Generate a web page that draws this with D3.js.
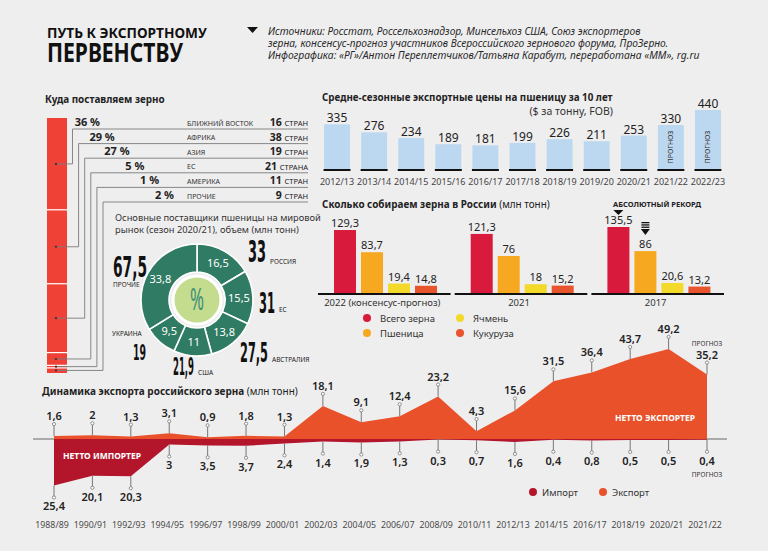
<!DOCTYPE html>
<html><head><meta charset="utf-8">
<script src="https://cdn.jsdelivr.net/npm/d3@7"></script>
<style>
html,body{margin:0;padding:0;background:#efeeef;}
svg{display:block;font-family:"Noto Sans",sans-serif;}
</style></head><body>
<svg id="c" width="768" height="551"></svg>
<script>
// ---- data ----
const regionNames = ["БЛИЖНИЙ ВОСТОК","АФРИКА","АЗИЯ","ЕС","АМЕРИКА","ПРОЧИЕ"];
const regionShares = [36,29,27,5,1,2];
const regionCounts = [16,38,19,21,11,9];
const regionUnits = ["СТРАН","СТРАН","СТРАН","СТРАНА","СТРАН","СТРАН"];

const priceSeasons = ["2012/13","2013/14","2014/15","2015/16","2016/17","2017/18","2018/19","2019/20","2020/21","2021/22","2022/23"];
const priceValues = [335,276,234,189,181,199,226,211,253,330,440];
const priceForecast = [false,false,false,false,false,false,false,false,false,true,true];

const harvestYears = ["2022 (консенсус-прогноз)","2021","2017"];
const harvestSeries = ["Всего зерна","Пшеница","Ячмень","Кукуруза"];
const harvestTotal = [129.3,121.3,135.5];
const harvestWheat = [83.7,76,86];
const harvestBarley = [19.4,18,20.6];
const harvestCorn = [14.8,15.2,13.2];
const harvestColors = ["#d81b3c","#f6a821","#f3d92a","#e8542c"];

const supplierNames = ["РОССИЯ","ЕС","АВСТРАЛИЯ","США","УКРАИНА","ПРОЧИЕ"];
const supplierShares = [16.5,15.5,13.8,11,9.5,33.8];
const supplierVolumes = [33,31,27.5,21.9,19,67.5];

const exportSeasons = ["1988/89","1990/91","1992/93","1994/95","1996/97","1998/99","2000/01","2002/03","2004/05","2006/07","2008/09","2010/11","2012/13","2014/15","2016/17","2018/19","2020/21","2021/22"];
const exportValues = [1.6,2,1.3,3.1,0.9,1.8,1.3,18.1,9.1,12.4,23.2,4.3,15.6,31.5,36.4,43.7,49.2,35.2];
const importValues = [25.4,20.1,20.3,3,3.5,3.7,2.4,1.4,1.9,1.3,0.3,0.7,1.6,0.4,0.8,0.5,0.5,0.4];

const fmt = v => String(v).replace('.', ',');
const svg = d3.select('#c');
const DARK = '#222';

// squeeze/stretch a text horizontally to a given width
function fit(t, w) {
  const n = t.node().getComputedTextLength();
  const x = +t.attr('x'), y = +t.attr('y');
  t.attr('x', 0).attr('y', 0).attr('transform', `translate(${x},${y}) scale(${w / n},1)`);
  return t;
}

// ---- header ----
fit(svg.append('text').attr('x',47).attr('y',38).attr('font-size',15).attr('font-weight',700)
  .attr('fill','#111').text('ПУТЬ К ЭКСПОРТНОМУ'),160);
fit(svg.append('text').attr('x',47).attr('y',62).attr('font-size',27).attr('font-weight',700)
  .attr('fill','#111').text('ПЕРВЕНСТВУ'),136);
svg.append('path').attr('d','M247,27L258,27L252.5,33Z').attr('fill','#111');
const srcLines = [
  ['Источники: Росстат, Россельхознадзор, Минсельхоз США, Союз экспортеров',373],
  ['зерна, консенсус-прогноз участников Всероссийского зернового форума, ПроЗерно.',401],
  ['Инфографика: «РГ»/Антон Переплетчиков/Татьяна Карабут, переработана «ММ», rg.ru',432]];
srcLines.forEach((l,i)=>fit(svg.append('text').attr('x',268).attr('y',35+i*12).attr('font-size',10.5)
  .attr('font-style','italic').attr('fill','#2a2a2a').text(l[0]),l[1]));

// ---- where we ship ----
fit(svg.append('text').attr('x',45).attr('y',103).attr('font-size',10.5).attr('font-weight',700).attr('fill',DARK).text('Куда поставляем зерно'),120);
const shareY = d3.scaleLinear().domain([0,100]).range([118,373]);
let cum = 0;
const segs = regionShares.map(v=>{const s={a:cum,b:cum+v}; cum+=v; return s;});
const gL = svg.append('g');
gL.selectAll('rect.seg').data(segs).join('rect').attr('class','seg')
  .attr('x',47).attr('width',20).attr('y',d=>shareY(d.a)).attr('height',d=>shareY(d.b)-shareY(d.a))
  .attr('fill','#ef4136');
gL.selectAll('line.sep').data(segs.slice(1)).join('line').attr('class','sep')
  .attr('x1',47).attr('x2',67).attr('y1',d=>shareY(d.a)).attr('y2',d=>shareY(d.a)).attr('stroke','#fff').attr('stroke-width',1.2);
const rowY = i => 129 + i*14.6;
const connX = i => 72.5 + i*6.1;
segs.forEach((d,i)=>{
  const my = shareY((d.a+d.b)/2);
  gL.append('path').attr('d',`M56,${my}H${connX(i)}V${rowY(i)}H308`).attr('fill','none').attr('stroke','#7a7a7a').attr('stroke-width',0.9);
  gL.append('circle').attr('cx',56).attr('cy',my).attr('r',1.1).attr('fill','#333');
  gL.append('text').attr('x',100+i*14.8).attr('y',rowY(i)-3).attr('text-anchor','end').attr('font-size',11).attr('font-weight',700).attr('fill',DARK).text(regionShares[i]+' %');
  gL.append('text').attr('x',187).attr('y',rowY(i)-3.5).attr('font-size',7).attr('fill','#333').text(regionNames[i]);
  const t = gL.append('text').attr('x',308).attr('y',rowY(i)-3).attr('text-anchor','end').attr('fill',DARK);
  t.append('tspan').attr('font-size',10.5).attr('font-weight',700).text(regionCounts[i]+' ');
  t.append('tspan').attr('font-size',7.5).text(regionUnits[i]);
});

// ---- donut ----
svg.append('text').attr('x',115).attr('y',221).attr('font-size',9.3).attr('fill','#333').text('Основные поставщики пшеницы на мировой');
svg.append('text').attr('x',115).attr('y',233).attr('font-size',9.3).attr('fill','#333').text('рынок (сезон 2020/21), объем (млн тонн)');
const cx=197, cy=300, R=56, r0=28;
const pie = d3.pie().sort(null).value(d=>d)(supplierShares);
const arc = d3.arc().innerRadius(r0).outerRadius(R);
const gD = svg.append('g').attr('transform',`translate(${cx},${cy})`);
gD.selectAll('path').data(pie).join('path').attr('d',arc).attr('fill','#2f7b63').attr('stroke','#fff').attr('stroke-width',1.6);
const labArc = d3.arc().innerRadius(42).outerRadius(42);
gD.selectAll('text.v').data(pie).join('text').attr('class','v')
  .attr('transform',d=>`translate(${labArc.centroid(d)})`).attr('text-anchor','middle').attr('dy','0.36em')
  .attr('font-size',11).attr('fill','#fff').text(d=>fmt(d.data));
gD.append('circle').attr('r',24).attr('fill','#c4dc8e').attr('stroke','#fff').attr('stroke-width',3);
fit(gD.append('text').attr('x',0).attr('y',10).attr('text-anchor','middle').attr('font-size',30).attr('fill','#3f8f77').text('%'),14);
// big numbers
const bigPos = [
  {x:248,y:262,fs:30,w:18,lx:270,ly:264},
  {x:259,y:313,fs:28,w:16,lx:279,ly:312},
  {x:240,y:362,fs:26,w:28,lx:272,ly:362},
  {x:173,y:375,fs:24,w:21,lx:198,ly:375},
  {x:133,y:360,fs:21,w:13,lx:112,ly:336},
  {x:113,y:277,fs:29,w:34,lx:113,ly:287}];
supplierVolumes.forEach((v,i)=>{
  const p = bigPos[i];
  fit(svg.append('text').attr('x',p.x).attr('y',p.y).attr('font-size',p.fs).attr('font-weight',700).attr('fill','#111')
    .attr('font-family','"DejaVu Sans Condensed","DejaVu Sans",sans-serif').text(fmt(v)),p.w);
  svg.append('text').attr('x',p.lx).attr('y',p.ly).attr('font-size',6.5).attr('fill','#222').text(supplierNames[i]);
});

// ---- prices ----
fit(svg.append('text').attr('x',322).attr('y',100.5).attr('font-size',10.5).attr('font-weight',700).attr('fill',DARK)
  .text('Средне-сезонные экспортные цены на пшеницу за 10 лет'),291);
svg.append('text').attr('x',613).attr('y',115).attr('text-anchor','end').attr('font-size',10.5).attr('fill','#333').text('($ за тонну, FOB)');
const px = d3.scaleBand().domain(priceSeasons).range([318.5,726.5]).paddingInner(0.3).paddingOuter(0.15);
const py = d3.scaleLinear().domain([0,440]).range([170,110]);
const gP = svg.append('g');
gP.selectAll('rect').data(priceValues).join('rect')
  .attr('x',(d,i)=>px(priceSeasons[i])).attr('width',px.bandwidth()).attr('y',d=>py(d)).attr('height',d=>py(0)-py(d)).attr('fill','#bcd8f0');
gP.selectAll('line').data(priceValues).join('line')
  .attr('x1',(d,i)=>px(priceSeasons[i])-0.5).attr('x2',(d,i)=>px(priceSeasons[i])+px.bandwidth()+0.5)
  .attr('y1',py(0)).attr('y2',py(0)).attr('stroke','#111').attr('stroke-width',2);
gP.selectAll('text.v').data(priceValues).join('text').attr('class','v')
  .attr('x',(d,i)=>px(priceSeasons[i])+px.bandwidth()/2).attr('y',d=>py(d)-2).attr('text-anchor','middle')
  .attr('font-size',12).attr('fill',DARK).text(d=>d);
gP.selectAll('text.s').data(priceSeasons).join('text').attr('class','s')
  .attr('x',d=>px(d)+px.bandwidth()/2).attr('y',185).attr('text-anchor','middle').attr('font-size',9).attr('fill','#444').text(d=>d);
priceSeasons.forEach((s,i)=>{ if(priceForecast[i]){
  const x = px(s)+px.bandwidth()/2;
  gP.append('text').attr('transform',`translate(${x+2.5},147) rotate(-90)`).attr('text-anchor','middle')
    .attr('font-size',7).attr('fill','#333').text('ПРОГНОЗ');
}});

// ---- harvest ----
const ht = svg.append('text').attr('x',322).attr('y',208).attr('font-size',10.5).attr('fill',DARK);
ht.append('tspan').attr('font-weight',700).text('Сколько собираем зерна в России');
ht.append('tspan').text(' (млн тонн)');
fit(ht,228);
const hx0 = d3.scaleBand().domain(harvestYears).range([318,724]).paddingInner(0.03);
const hx1 = d3.scaleBand().domain(harvestSeries).range([16,119]).paddingInner(0.185);
const hy = d3.scaleLinear().domain([0,135.5]).range([293,227]);
const hData = harvestYears.map((y,i)=>({year:y, vals:[harvestTotal[i],harvestWheat[i],harvestBarley[i],harvestCorn[i]]}));
const gH = svg.append('g');
hData.forEach(g=>{
  const gx = hx0(g.year);
  gH.selectAll(null).data(g.vals).join('rect')
    .attr('x',(d,j)=>gx+hx1(harvestSeries[j])).attr('width',hx1.bandwidth()).attr('y',d=>hy(d)).attr('height',d=>hy(0)-hy(d))
    .attr('fill',(d,j)=>harvestColors[j]);
  gH.selectAll(null).data(g.vals).join('text')
    .attr('x',(d,j)=>gx+hx1(harvestSeries[j])+hx1.bandwidth()/2).attr('y',d=>hy(d)-3).attr('text-anchor','middle')
    .attr('font-size',11).attr('fill',DARK).text(d=>fmt(d));
  gH.append('line').attr('x1',gx).attr('x2',gx+hx0.bandwidth()).attr('y1',hy(0)+1).attr('y2',hy(0)+1).attr('stroke','#111').attr('stroke-width',2);
  gH.append('text').attr('x',gx+hx0.bandwidth()/2-2).attr('y',306).attr('text-anchor','middle').attr('font-size',9.5).attr('fill','#333').text(g.year);
});
// record marks
const recX = hx0(harvestYears[2]);
gH.append('text').attr('x',613).attr('y',207).attr('font-size',7.5).attr('font-weight',700).attr('fill',DARK).text('АБСОЛЮТНЫЙ РЕКОРД');
const rx1 = recX+hx1(harvestSeries[0])+hx1.bandwidth()/2;
gH.append('path').attr('d',`M${rx1-5},210L${rx1+5},210L${rx1},215Z`).attr('fill','#111');
const rx2 = recX+hx1(harvestSeries[1])+hx1.bandwidth()/2;
[222,224.3,226.6].forEach(yy=>gH.append('rect').attr('x',rx2-4).attr('y',yy).attr('width',8).attr('height',1.3).attr('fill','#111'));
gH.append('path').attr('d',`M${rx2-4.5},229L${rx2+4.5},229L${rx2},235Z`).attr('fill','#111');
// legend
const hLeg = [[367,318,0],[367,333,1],[460,318,2],[460,333,3]];
hLeg.forEach(([x,y,j])=>{
  svg.append('circle').attr('cx',x).attr('cy',y).attr('r',4).attr('fill',harvestColors[j]);
  svg.append('text').attr('x',x+13).attr('y',y+3.5).attr('font-size',9.5).attr('fill','#333').text(harvestSeries[j]);
});

// ---- export dynamics ----
const bt = svg.append('text').attr('x',42).attr('y',395).attr('font-size',10.5).attr('fill',DARK);
bt.append('tspan').attr('font-weight',700).text('Динамика экспорта российского зерна');
bt.append('tspan').text(' (млн тонн)');
fit(bt,256);
const ex = d3.scalePoint().domain(exportSeasons).range([54,707]);
const ey = d3.scaleLinear().domain([-30,50]).range([493.9,347.5]);
const gE = svg.append('g');
gE.append('line').attr('x1',33).attr('x2',727).attr('y1',ey(0)).attr('y2',ey(0)).attr('stroke','#666').attr('stroke-width',1);
const expArea = d3.area().x((d,i)=>ex(exportSeasons[i])).y0(ey(0)).y1(d=>ey(d));
const impArea = d3.area().x((d,i)=>ex(exportSeasons[i])).y0(ey(0)).y1(d=>ey(-d));
gE.append('path').attr('d',expArea(exportValues)).attr('fill','#e9512a');
gE.append('path').attr('d',impArea(importValues)).attr('fill','#b3162b');
exportValues.forEach((v,i)=>{
  const x = ex(exportSeasons[i]), top = ey(v);
  gE.append('line').attr('x1',x).attr('x2',x).attr('y1',top).attr('y2',top-12).attr('stroke','#777').attr('stroke-width',1);
  gE.append('circle').attr('cx',x).attr('cy',top-12).attr('r',1.6).attr('fill','#fff').attr('stroke','#777').attr('stroke-width',0.8);
  gE.append('text').attr('x',x).attr('y',top-16).attr('text-anchor','middle').attr('font-size',11).attr('font-weight',600).attr('fill',DARK).text(fmt(v));
});
importValues.forEach((v,i)=>{
  const x = ex(exportSeasons[i]), bot = ey(-v);
  gE.append('line').attr('x1',x).attr('x2',x).attr('y1',bot).attr('y2',bot+12).attr('stroke','#777').attr('stroke-width',1);
  gE.append('circle').attr('cx',x).attr('cy',bot+12).attr('r',1.6).attr('fill','#fff').attr('stroke','#777').attr('stroke-width',0.8);
  gE.append('text').attr('x',x).attr('y',bot+25).attr('text-anchor','middle').attr('font-size',11).attr('font-weight',600).attr('fill',DARK).text(fmt(v));
});
const lastX = ex(exportSeasons[exportSeasons.length-1]);
gE.append('text').attr('x',lastX).attr('y',346).attr('text-anchor','middle').attr('font-size',6.5).attr('fill','#333').text('ПРОГНОЗ');
gE.append('text').attr('x',lastX).attr('y',477).attr('text-anchor','middle').attr('font-size',6.5).attr('fill','#333').text('ПРОГНОЗ');
gE.append('text').attr('x',63).attr('y',459).attr('font-size',8.5).attr('font-weight',700).attr('fill','#fff').text('НЕТТО ИМПОРТЕР');
gE.append('text').attr('x',615).attr('y',421).attr('font-size',8.5).attr('font-weight',700).attr('fill','#fff').text('НЕТТО ЭКСПОРТЕР');
gE.selectAll('text.yr').data(exportSeasons).join('text').attr('class','yr')
  .attr('x',d=>ex(d)-2).attr('y',528).attr('text-anchor','middle').attr('font-size',8.8).attr('fill','#4a4a4a').text(d=>d);
[[533,'#b3162b','Импорт'],[603,'#e9512a','Экспорт']].forEach(([x,c,t])=>{
  svg.append('circle').attr('cx',x).attr('cy',492).attr('r',4).attr('fill',c);
  svg.append('text').attr('x',x+9).attr('y',495.5).attr('font-size',9.5).attr('fill','#333').text(t);
});
</script>
</body></html>
